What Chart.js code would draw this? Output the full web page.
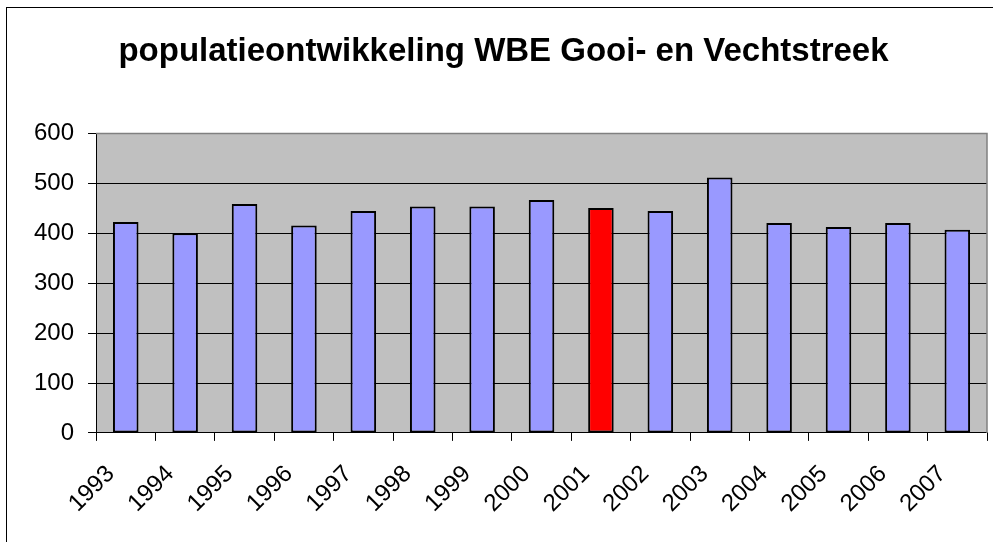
<!DOCTYPE html>
<html>
<head>
<meta charset="utf-8">
<script src="https://cdn.jsdelivr.net/npm/chart.js@4"></script>
<style>
  body { margin: 0; background: #fff; }
  #wrap { width: 993px; height: 542px; }
</style>
</head>
<body>
<div id="wrap"><canvas id="popChart" width="993" height="542"></canvas></div>
<script>
// data
const years = ['1993', '1994', '1995', '1996', '1997', '1998', '1999', '2000',
               '2001', '2002', '2003', '2004', '2005', '2006', '2007'];
const population = [423, 400, 459, 416, 445, 454, 454, 467,
                    451, 445, 512, 421, 413, 421, 407];
const highlightYear = '2001';
const yTicks = [0, 100, 200, 300, 400, 500, 600];

const barColors = years.map(y => y === highlightYear ? '#FF0000' : '#9999FF');

// grey plot area, grey top/right edge, frame round the whole chart
const framePlugin = {
    id: 'frame',
    beforeDraw(chart) {
        const { ctx, chartArea: a } = chart;
        ctx.save();
        ctx.fillStyle = '#fff';
        ctx.fillRect(0, 0, chart.width, chart.height);
        ctx.fillStyle = '#C0C0C0';
        ctx.fillRect(a.left, a.top, a.right - a.left, a.bottom - a.top);
        ctx.restore();
    },
    afterDraw(chart) {
        const { ctx, chartArea: a } = chart;
        ctx.save();
        ctx.strokeStyle = '#808080';
        ctx.lineWidth = 1.5;
        ctx.beginPath();
        ctx.moveTo(a.left, a.top);
        ctx.lineTo(a.right, a.top);
        ctx.lineTo(a.right, a.bottom);
        ctx.stroke();
        ctx.strokeStyle = '#000';
        ctx.lineWidth = 1;
        ctx.strokeRect(6.5, 7.5, chart.width, chart.height);
        ctx.restore();
    }
};

const ctx = document.getElementById('popChart').getContext('2d');
const popChart = new Chart(ctx, {
    type: 'bar',
    data: {
        labels: years,
        datasets: [{
            label: 'populatie',
            data: population,
            backgroundColor: barColors,
            borderColor: '#000',
            borderWidth: 2,
            borderSkipped: false,
            barPercentage: 0.43,
            categoryPercentage: 1
        }]
    },
    options: {
        responsive: false,
        animation: false,
        layout: { padding: { top: 8, left: 20, right: 6, bottom: 5 } },
        plugins: {
            legend: { display: false },
            tooltip: { enabled: false },
            title: {
                display: true,
                text: 'populatieontwikkeling WBE Gooi- en Vechtstreek',
                color: '#000',
                font: { family: 'Liberation Sans', size: 33, weight: 'bold' },
                padding: { top: 24, bottom: 62 }
            }
        },
        scales: {
            x: {
                afterFit(scale) { scale.paddingRight = 0; },
                grid: { display: true, drawOnChartArea: false, color: '#000', tickLength: 8, offset: true },
                border: { color: '#000', width: 1 },
                ticks: {
                    color: '#000',
                    font: { family: 'Liberation Sans', size: 24 },
                    minRotation: 45,
                    maxRotation: 45,
                    padding: 19,
                    labelOffset: -15
                }
            },
            y: {
                min: 0,
                max: 600,
                afterBuildTicks(scale) { scale.ticks = yTicks.map(v => ({ value: v })); },
                grid: { color: '#000', tickLength: 8 },
                border: { color: '#000', width: 1 },
                ticks: {
                    color: '#000',
                    font: { family: 'Liberation Sans', size: 24 },
                    padding: 14
                }
            }
        }
    },
    plugins: [framePlugin]
});
</script>
</body>
</html>
